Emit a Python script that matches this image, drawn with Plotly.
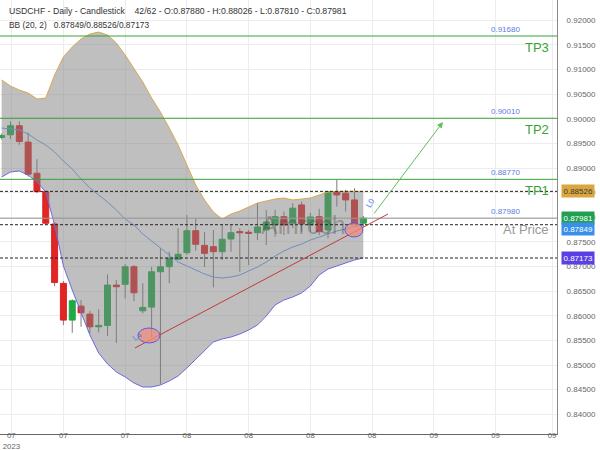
import plotly.graph_objects as go

# ---------------- data ----------------
opens = [0.89620, 0.89674, 0.89858, 0.89526, 0.88895, 0.88521, 0.87864, 0.86658, 0.85912, 0.86197,
         0.86034, 0.85776, 0.85804, 0.86624, 0.86638, 0.86996, 0.86101, 0.86176, 0.86894, 0.86996,
         0.87147, 0.87281, 0.87728, 0.87431, 0.87403, 0.87301, 0.87559, 0.87708, 0.87696, 0.87687,
         0.87742, 0.87844, 0.88013, 0.87879, 0.88251, 0.87844, 0.88013, 0.87742, 0.88521, 0.88489,
         0.88352, 0.87880]
highs = [0.89700, 0.89945, 0.89945, 0.89721, 0.89180, 0.88540, 0.87900, 0.86705, 0.86333, 0.86319,
         0.86101, 0.86130, 0.86841, 0.86725, 0.87051, 0.87031, 0.86659, 0.86996, 0.87370, 0.87301,
         0.87777, 0.88047, 0.87980, 0.87702, 0.87742, 0.87844, 0.87844, 0.87777, 0.87742, 0.88285,
         0.88149, 0.88149, 0.88115, 0.88285, 0.88318, 0.88088, 0.88170, 0.88536, 0.88759, 0.88556,
         0.88590, 0.88026]
lows = [0.89580, 0.89587, 0.89471, 0.88826, 0.88489, 0.87840, 0.86603, 0.85810, 0.85654, 0.85776,
        0.85641, 0.85662, 0.85587, 0.85450, 0.86353, 0.86298, 0.86048, 0.85566, 0.84610, 0.86659,
        0.87132, 0.87234, 0.87321, 0.86990, 0.86577, 0.87132, 0.87301, 0.86894, 0.87031, 0.87539,
        0.87437, 0.87606, 0.87640, 0.87777, 0.87708, 0.87708, 0.87640, 0.87573, 0.88216, 0.88115,
        0.87810, 0.87810]
closes = [0.89660, 0.89858, 0.89538, 0.88875, 0.88521, 0.87879, 0.86675, 0.85912, 0.86305, 0.86060,
          0.85776, 0.85804, 0.86624, 0.86590, 0.86996, 0.86467, 0.86170, 0.86894, 0.86996, 0.87167,
          0.87248, 0.87728, 0.87451, 0.87268, 0.87301, 0.87553, 0.87687, 0.87687, 0.87675, 0.87803,
          0.87905, 0.88013, 0.87844, 0.88184, 0.87864, 0.88007, 0.87708, 0.88521, 0.88454, 0.88352,
          0.87880, 0.87981]

bb_upper = [0.90787, 0.90665, 0.90584, 0.90523, 0.90401, 0.90421, 0.90888, 0.91254, 0.91457, 0.91620,
            0.91720, 0.91760, 0.91700, 0.91540, 0.91294, 0.91030, 0.90746, 0.90421, 0.90137, 0.89812,
            0.89467, 0.89061, 0.88655, 0.88351, 0.88107, 0.87965, 0.88066, 0.88127, 0.88209, 0.88290,
            0.88330, 0.88371, 0.88391, 0.88351, 0.88371, 0.88391, 0.88452, 0.88513, 0.88526, 0.88526,
            0.88526, 0.88526]
bb_mid = [0.89812, 0.89792, 0.89772, 0.89691, 0.89569, 0.89467, 0.89325, 0.89142, 0.88980, 0.88777,
          0.88594, 0.88452, 0.88310, 0.88148, 0.87965, 0.87843, 0.87660, 0.87518, 0.87376, 0.87234,
          0.87092, 0.87011, 0.86929, 0.86848, 0.86787, 0.86767, 0.86787, 0.86828, 0.86909, 0.86990,
          0.87092, 0.87214, 0.87315, 0.87396, 0.87457, 0.87538, 0.87599, 0.87660, 0.87721, 0.87762,
          0.87802, 0.87849]
bb_lower = [0.88818, 0.88919, 0.88939, 0.88858, 0.88716, 0.88513, 0.87843, 0.87011, 0.86523, 0.86077,
            0.85610, 0.85244, 0.85021, 0.84859, 0.84757, 0.84635, 0.84554, 0.84554, 0.84595, 0.84676,
            0.84777, 0.84940, 0.85123, 0.85305, 0.85468, 0.85529, 0.85569, 0.85630, 0.85711, 0.85813,
            0.85996, 0.86219, 0.86320, 0.86381, 0.86463, 0.86605, 0.86828, 0.86950, 0.87011, 0.87072,
            0.87133, 0.87173]

x_tick_pos = [1.1, 7, 14, 21, 28, 35, 42, 49, 56, 62.4]
x_tick_text = ["07<br>2023", "07", "07", "08", "08", "08", "08", "09", "09", "09"]

level_names = ["TP3", "TP2", "TP1", "At Price"]
level_values = [0.91680, 0.90010, 0.88770, 0.87980]
level_colors = ["#36a336", "#36a336", "#36a336", "#999999"]

header_1 = "USDCHF - Daily - Candlestick\u00a0\u00a0\u00a0 42/62 - O:0.87880 - H:0.88026 - L:0.87810 - C:0.87981"
header_2 = "BB (20, 2)\u00a0\u00a0 0.87849/0.88526/0.87173"
watermark = "Amrcch"

# trend line / markers (index, price)
trend_start = (15.11, 0.85346)
trend_end = (43.8, 0.88066)
arrow_start = (42.1, 0.88046)
arrow_end = (50.03, 0.89934)
ell_1 = (16.7, 0.85600, 1.25, 0.00152)
ell_2 = (39.94, 0.87742, 1.02, 0.00142)

GREEN = "#1faa45"
RED = "#e02525"
FONT = "Liberation Sans, Arial, sans-serif"

idx = list(range(len(opens)))
body_mid = [(o + c) / 2 for o, c in zip(opens, closes)]
body_hi = [max(o, c) for o, c in zip(opens, closes)]
body_lo = [min(o, c) for o, c in zip(opens, closes)]

fig = go.Figure()

# wicks (gray)
fig.add_trace(go.Candlestick(
    x=idx, open=body_mid, close=body_mid, high=highs, low=lows,
    increasing=dict(line=dict(color="#7a7a7a", width=1), fillcolor="#7a7a7a"),
    decreasing=dict(line=dict(color="#7a7a7a", width=1), fillcolor="#7a7a7a"),
    whiskerwidth=0, hoverinfo="skip", showlegend=False))
# bodies
fig.add_trace(go.Candlestick(
    x=idx, open=opens, close=closes, high=body_hi, low=body_lo,
    increasing=dict(line=dict(color=GREEN, width=1), fillcolor=GREEN),
    decreasing=dict(line=dict(color=RED, width=1), fillcolor=RED),
    whiskerwidth=0, hoverinfo="skip", showlegend=False))

# Bollinger bands
fig.add_trace(go.Scatter(x=idx, y=bb_upper, mode="lines",
                         line=dict(color="#d9a84e", width=1), hoverinfo="skip", showlegend=False))
fig.add_trace(go.Scatter(x=idx, y=bb_lower, mode="lines", fill="tonexty",
                         fillcolor="rgba(128,128,128,0.5)",
                         line=dict(color="#6b6bdf", width=1), hoverinfo="skip", showlegend=False))
fig.add_trace(go.Scatter(x=idx, y=bb_mid, mode="lines",
                         line=dict(color="#6f90b8", width=1), hoverinfo="skip", showlegend=False))

shapes = []
# target levels
for v, c in zip(level_values, level_colors):
    shapes.append(dict(type="line", xref="paper", x0=0, x1=1, y0=v, y1=v,
                       line=dict(color=c, width=1), layer="above"))
# dashed BB levels
for v in (bb_upper[-1], bb_mid[-1], bb_lower[-1]):
    shapes.append(dict(type="line", xref="paper", x0=0, x1=1, y0=v, y1=v,
                       line=dict(color="#222222", width=1, dash="3px,2px"), layer="above"))
# trend line
shapes.append(dict(type="line", x0=trend_start[0], y0=trend_start[1], x1=trend_end[0], y1=trend_end[1],
                   line=dict(color="#c23a3a", width=1), layer="above"))
for cx, cy, rx, ry in (ell_1, ell_2):
    shapes.append(dict(type="circle", x0=cx - rx, x1=cx + rx, y0=cy - ry, y1=cy + ry,
                       fillcolor="rgba(240,140,125,0.75)", line=dict(color="#5a5ae6", width=1),
                       layer="above"))

annotations = []
# header
annotations.append(dict(text=header_1, xref="paper", yref="paper", x=0, y=1, xanchor="left",
                        yanchor="middle", xshift=7, yshift=-10.5, showarrow=False,
                        font=dict(family=FONT, size=8.7, color="#333333")))
annotations.append(dict(text=header_2, xref="paper", yref="paper", x=0, y=1, xanchor="left",
                        yanchor="middle", xshift=7, yshift=-25, showarrow=False,
                        font=dict(family=FONT, size=8.4, color="#333333")))
# level labels
for name, v, c in zip(level_names, level_values, level_colors):
    annotations.append(dict(text=f"{v:.5f}", xref="paper", yref="y", x=522 / 557, y=v,
                            xanchor="right", yanchor="bottom", yshift=0, showarrow=False,
                            font=dict(family=FONT, size=8, color="#5a7be0")))
    annotations.append(dict(text=name, xref="paper", yref="y", x=551 / 557, y=v,
                            xanchor="right", yanchor="top", yshift=-2, showarrow=False,
                            font=dict(family=FONT, size=13, color=c)))
# price badges
badge_vals = [bb_upper[-1], closes[-1], bb_mid[-1], bb_lower[-1]]
badge_bg = ["#dba63e", "#22a052", "#3a8fe8", "#5a3fe3"]
badge_fg = ["#3a3a3a", "#ffffff", "#ffffff", "#ffffff"]
badge_shift = [0, 0, -4.5, 0]
for v, bg, fg, sh in zip(badge_vals, badge_bg, badge_fg, badge_shift):
    annotations.append(dict(text=f"{v:.5f}", xref="paper", yref="y", x=1, y=v, xanchor="left",
                            yanchor="middle", xshift=4, yshift=sh, showarrow=False,
                            bgcolor=bg, borderpad=1.5,
                            font=dict(family=FONT, size=8, color=fg)))
# L4 / L0
annotations.append(dict(text="L4", x=15.4, y=0.8557, showarrow=False, textangle=-35,
                        font=dict(family=FONT, size=8, color="#5a7be0")))
annotations.append(dict(text="L0", x=41.87, y=0.8829, showarrow=False, textangle=-60,
                        font=dict(family=FONT, size=8, color="#5a7be0")))
# arrow
annotations.append(dict(x=arrow_end[0], y=arrow_end[1], ax=arrow_start[0], ay=arrow_start[1],
                        xref="x", yref="y", axref="x", ayref="y", text="", showarrow=True,
                        arrowhead=2, arrowsize=1.2, arrowwidth=1, arrowcolor="#5cbf5c"))
# watermark
annotations.append(dict(text=watermark, x=34.2, y=0.8785, showarrow=False,
                        font=dict(family=FONT, size=25, color="rgba(70,70,70,0.35)")))

fig.update_layout(
    width=600, height=450,
    margin=dict(l=0, r=43, t=0, b=16, autoexpand=False),
    paper_bgcolor="white", plot_bgcolor="white",
    showlegend=False,
    boxgap=0.2, boxgroupgap=0.15,
    shapes=shapes, annotations=annotations,
    font=dict(family=FONT),
    xaxis=dict(range=[-0.19, 62.96], rangeslider=dict(visible=False), automargin=False,
               tickvals=x_tick_pos, ticktext=x_tick_text, showgrid=True, gridcolor="#ececec",
               gridwidth=1, zeroline=False, showline=True, linecolor="#666666", linewidth=1,
               ticks="", ticklabelstandoff=-6,
               tickfont=dict(family=FONT, size=7.8, color="#666666")),
    yaxis=dict(range=[0.83600, 0.92411], side="right", dtick=0.005, tick0=0.835, automargin=False,
               tickformat=".5f", showgrid=True, gridcolor="#ececec", gridwidth=1,
               zeroline=False, showline=True, linecolor="#888888", linewidth=1,
               ticks="", ticklabelstandoff=7,
               tickfont=dict(family=FONT, size=8, color="#666666")),
)

fig.write_html("out.html")
